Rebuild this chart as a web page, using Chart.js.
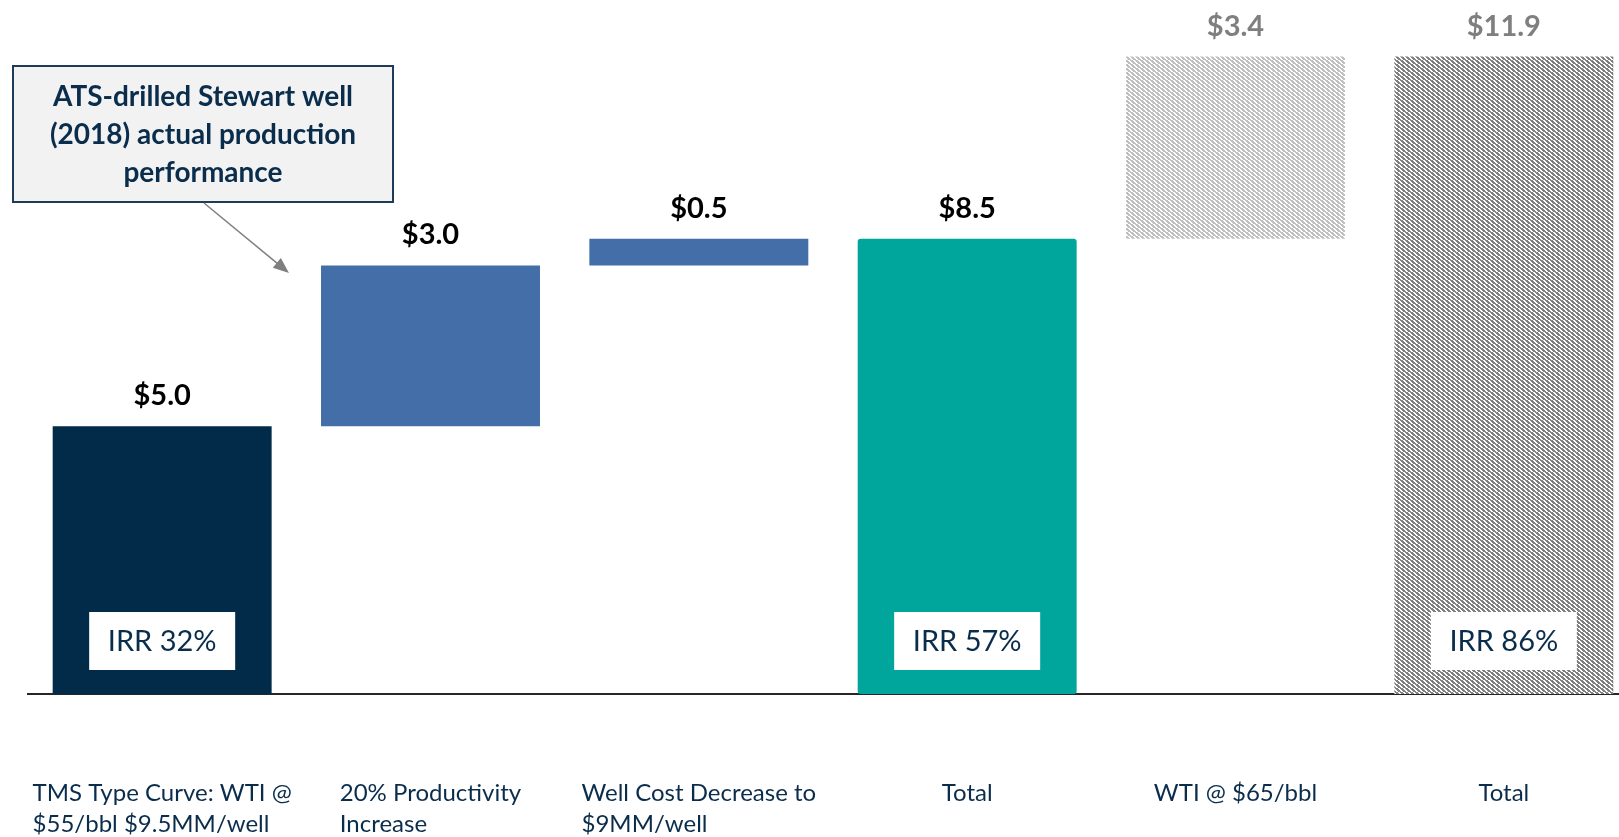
<!DOCTYPE html>
<html>
<head>
<meta charset="utf-8">
<script src="https://cdn.jsdelivr.net/npm/chart.js@4"></script>
<style>
  html, body { margin: 0; padding: 0; background: #fff; overflow: hidden; }
  #wrap { width: 1640px; height: 837px; }
</style>
</head>
<body>
<div id="wrap"><canvas id="waterfall" width="1640" height="837"></canvas></div>
<script>
// categories, bar values and labels
const categories = [
  ['TMS Type Curve: WTI @', '$55/bbl $9.5MM/well'],
  ['20% Productivity', 'Increase'],
  ['Well Cost Decrease to', '$9MM/well'],
  ['Total'],
  ['WTI @ $65/bbl'],
  ['Total']
];
const values = [5.0, 3.0, 0.5, 8.5, 3.4, 11.9];
const isTotal = [false, false, false, true, false, true];
const irrLabels = ['IRR 32%', null, null, 'IRR 57%', null, 'IRR 86%'];
const calloutLines = ['ATS-drilled Stewart well', '(2018) actual production', 'performance'];

const NAVY = '#0b2d4c';
const FONT = 'Lato, "Open Sans", sans-serif';

// downward diagonal hatch, like the excel pattern fill
function hatch(color) {
  const W = 5, H = 4;
  const c = document.createElement('canvas');
  c.width = W; c.height = H;
  const g = c.getContext('2d');
  g.fillStyle = '#fff';
  g.fillRect(0, 0, W, H);
  g.fillStyle = color;
  for (let y = 0; y < H; y++) {
    const shift = Math.floor(1.25 * y);
    for (let x = 0; x < W; x++) {
      if (((x - shift) % W + W) % W < 3) g.fillRect(x, y, 1, 1);
    }
  }
  return g.createPattern(c, 'repeat');
}

// floating ranges for the waterfall
let running = 0;
const ranges = values.map((v, i) => {
  if (isTotal[i]) { running = v; return [0, v]; }
  const r = [running, running + v];
  running += v;
  return r;
});

const barColors = ['#022b49', '#436ea8', '#436ea8', '#00a59b', hatch('#c0c0c0'), hatch('#808080')];
const labelColors = ['#000', '#000', '#000', '#000', '#7f7f7f', '#7f7f7f'];

const overlay = {
  id: 'overlay',
  afterDatasetsDraw(chart) {
    const ctx = chart.ctx;
    const meta = chart.getDatasetMeta(0);
    const yScale = chart.scales.y;
    const base = yScale.getPixelForValue(0);
    ctx.save();
    meta.data.forEach((bar, i) => {
      const top = Math.min(bar.y, bar.base);
      // value label
      ctx.font = 'bold 29px ' + FONT;
      ctx.fillStyle = labelColors[i];
      ctx.textAlign = 'center';
      ctx.textBaseline = 'alphabetic';
      ctx.fillText('$' + values[i].toFixed(1), bar.x, top - 21);
      // IRR box
      if (irrLabels[i]) {
        const w = 146, h = 58;
        const by = base - 24 - h;
        ctx.fillStyle = '#fff';
        ctx.fillRect(bar.x - w / 2, by, w, h);
        ctx.fillStyle = NAVY;
        ctx.font = '29px ' + FONT;
        ctx.textBaseline = 'middle';
        ctx.fillText(irrLabels[i], bar.x, by + h / 2 + 1);
      }
    });
    ctx.restore();
  },
  afterDraw(chart) {
    const ctx = chart.ctx;
    const xScale = chart.scales.x;
    ctx.save();
    // category labels: block centred under the bar, lines left aligned
    ctx.font = '24px ' + FONT;
    ctx.fillStyle = NAVY;
    ctx.textAlign = 'left';
    ctx.textBaseline = 'alphabetic';
    categories.forEach((lines, i) => {
      const cx = xScale.getPixelForValue(i);
      const w = Math.max(...lines.map(l => ctx.measureText(l).width));
      lines.forEach((l, j) => ctx.fillText(l, cx - w / 2, 801 + j * 31));
    });

    // callout box
    ctx.fillStyle = '#f2f2f2';
    ctx.fillRect(13, 66, 380, 136);
    ctx.strokeStyle = '#1f3b57';
    ctx.lineWidth = 2;
    ctx.strokeRect(13, 66, 380, 136);
    ctx.fillStyle = NAVY;
    ctx.font = 'bold 28px ' + FONT;
    ctx.textAlign = 'center';
    calloutLines.forEach((l, j) => ctx.fillText(l, 203, 106 + j * 38));

    // arrow
    const x1 = 204, y1 = 203, x2 = 289, y2 = 273;
    const ang = Math.atan2(y2 - y1, x2 - x1);
    ctx.strokeStyle = '#7f7f7f';
    ctx.fillStyle = '#7f7f7f';
    ctx.lineWidth = 1.5;
    ctx.beginPath();
    ctx.moveTo(x1, y1);
    ctx.lineTo(x2 - 14 * Math.cos(ang), y2 - 14 * Math.sin(ang));
    ctx.stroke();
    ctx.beginPath();
    ctx.moveTo(x2, y2);
    ctx.lineTo(x2 - 17 * Math.cos(ang - 0.38), y2 - 17 * Math.sin(ang - 0.38));
    ctx.lineTo(x2 - 17 * Math.cos(ang + 0.38), y2 - 17 * Math.sin(ang + 0.38));
    ctx.closePath();
    ctx.fill();
    ctx.restore();
  }
};

new Chart(document.getElementById('waterfall'), {
  type: 'bar',
  data: {
    labels: categories,
    datasets: [{
      data: ranges,
      backgroundColor: barColors,
      borderWidth: 0,
      borderRadius: [0, 0, 0, 3, 0, 0],
      borderSkipped: false,
      categoryPercentage: 1,
      barPercentage: 0.816
    }]
  },
  options: {
    responsive: false,
    animation: false,
    devicePixelRatio: 1,
    layout: { padding: { left: 28, right: 2, top: 3, bottom: 143 } },
    plugins: { legend: { display: false }, tooltip: { enabled: false } },
    scales: {
      x: {
        grid: { display: false, drawTicks: false },
        border: { display: true, color: '#262626', width: 2 },
        ticks: { display: false }
      },
      y: {
        display: false,
        min: 0,
        max: 12.9
      }
    }
  },
  plugins: [overlay]
});
</script>
</body>
</html>
